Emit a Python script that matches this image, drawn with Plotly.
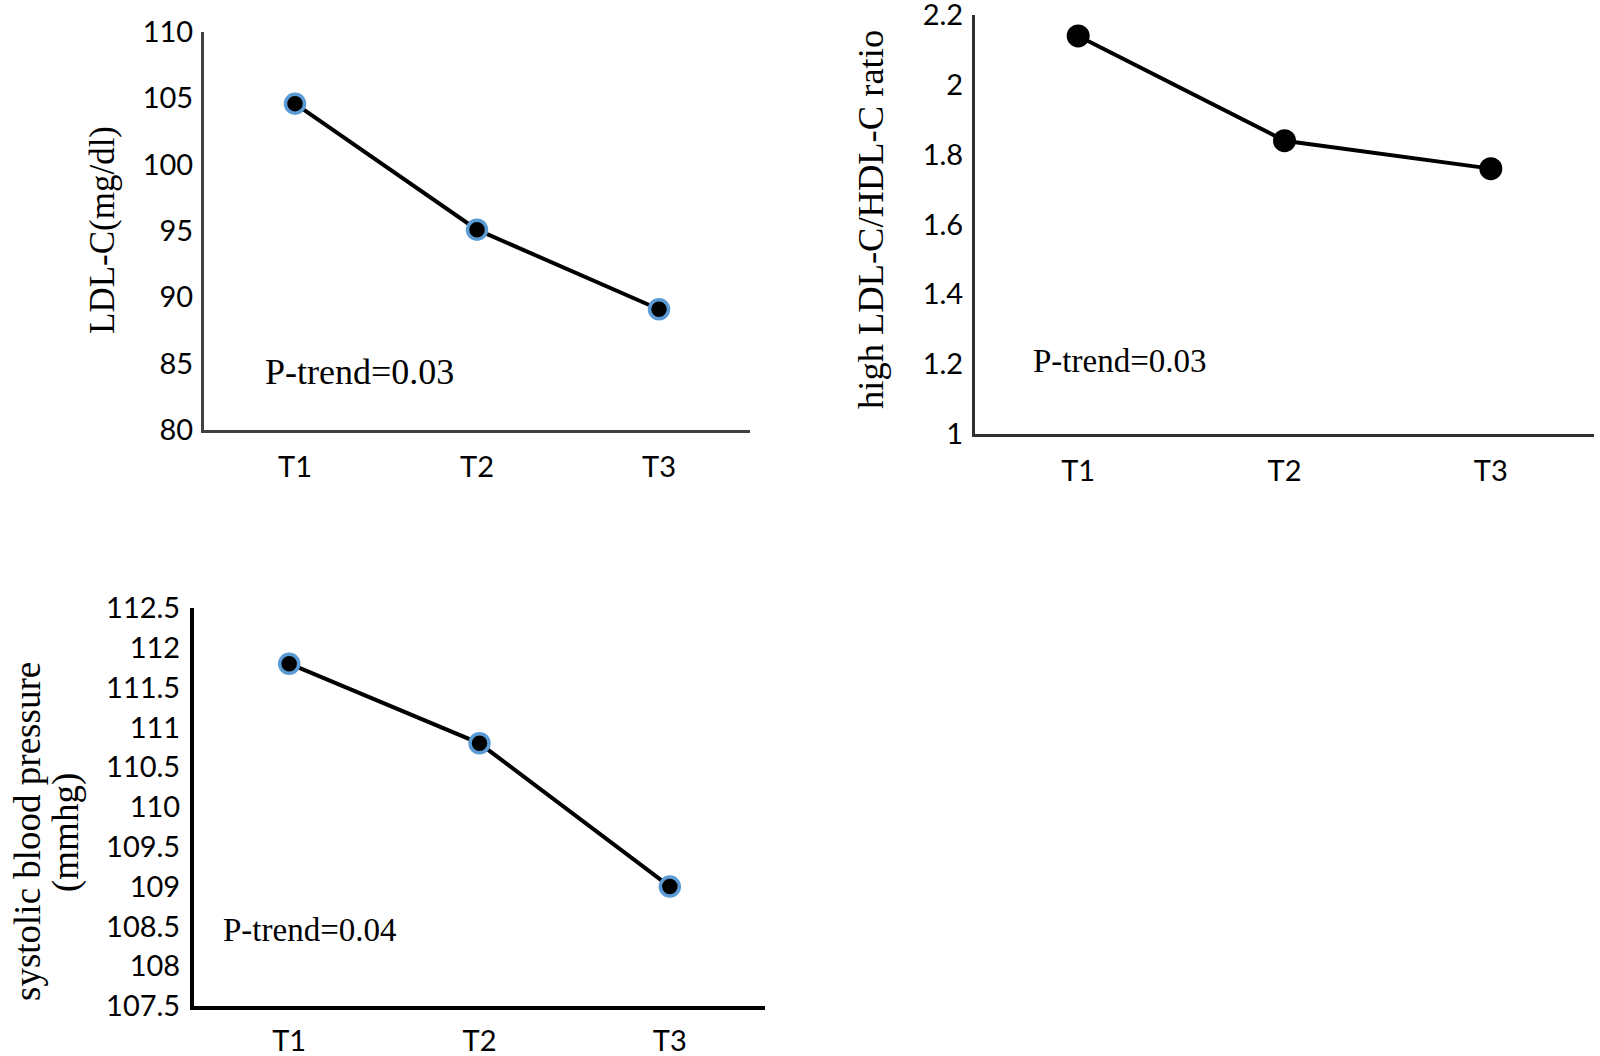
import plotly.graph_objects as go

categories = ["T1", "T2", "T3"]

ldl_values = [104.6, 95.1, 89.1]
ratio_values = [2.14, 1.84, 1.76]
sbp_values = [111.8, 110.8, 109.0]

ldl_ticks = [80, 85, 90, 95, 100, 105, 110]
ratio_ticks = [1, 1.2, 1.4, 1.6, 1.8, 2, 2.2]
ratio_ticktext = ["1", "1.2", "1.4", "1.6", "1.8", "2", "2.2"]
sbp_ticks = [107.5, 108, 108.5, 109, 109.5, 110, 110.5, 111, 111.5, 112, 112.5]
sbp_ticktext = ["107.5", "108", "108.5", "109", "109.5", "110", "110.5", "111", "111.5", "112", "112.5"]

ytitle1 = "LDL-C(mg/dl)"
ytitle2 = "high LDL-C/HDL-C ratio"
ytitle3_lines = ["systolic blood pressure", "(mmhg)"]
ptrend = ["P-trend=0.03", "P-trend=0.03", "P-trend=0.04"]

W, H = 1600, 1056
TICKFONT = dict(family="Lato, 'Open Sans', sans-serif", size=29, color="#000000")
SERIF = "'Liberation Serif', 'Times New Roman', serif"

fig = go.Figure()

blue = "#5B9BD5"
fig.add_trace(go.Scatter(x=categories, y=ldl_values, mode="lines+markers", xaxis="x", yaxis="y",
                         line=dict(color="#000000", width=4),
                         marker=dict(size=19, color="#000000", line=dict(color=blue, width=3.5)),
                         showlegend=False))
fig.add_trace(go.Scatter(x=categories, y=ratio_values, mode="lines+markers", xaxis="x2", yaxis="y2",
                         line=dict(color="#000000", width=4),
                         marker=dict(size=23, color="#000000"),
                         showlegend=False))
fig.add_trace(go.Scatter(x=categories, y=sbp_values, mode="lines+markers", xaxis="x3", yaxis="y3",
                         line=dict(color="#000000", width=4),
                         marker=dict(size=19, color="#000000", line=dict(color=blue, width=3.5)),
                         showlegend=False))

def px_x(v):
    return v / W

def px_y(v):
    return 1 - v / H

def xaxis(l, r, anchor, lc, lw, standoff=9):
    return dict(domain=[px_x(l), px_x(r)], anchor=anchor, type="category",
                range=[-0.5, 2.5], showgrid=False, zeroline=False, automargin=False,
                showline=True, linecolor=lc, linewidth=lw, ticks="", ticklabeloverflow="allow",
                tickfont=TICKFONT, ticklabelstandoff=standoff, fixedrange=True)

def yaxis(t, b, anchor, rng, tv, tt, lc, lw, standoff):
    return dict(domain=[px_y(b), px_y(t)], anchor=anchor, range=rng, automargin=False,
                tickvals=tv, ticktext=tt, showgrid=False, zeroline=False,
                showline=True, linecolor=lc, linewidth=lw, ticks="", ticklabeloverflow="allow",
                tickfont=TICKFONT, ticklabelstandoff=standoff, fixedrange=True)

fig.update_layout(
    width=W, height=H,
    margin=dict(l=0, r=0, t=0, b=0),
    paper_bgcolor="#FFFFFF", plot_bgcolor="#FFFFFF",
    xaxis=xaxis(204, 750, "y", "#404040", 3),
    yaxis=yaxis(32, 430, "x", [80, 110], ldl_ticks, [str(v) for v in ldl_ticks], "#404040", 3, 2),
    xaxis2=xaxis(975, 1594, "y2", "#303030", 3),
    yaxis2=yaxis(15, 434, "x2", [1, 2.2], ratio_ticks, ratio_ticktext, "#303030", 3, 3),
    xaxis3=xaxis(194, 765, "y3", "#000000", 4, 6),
    yaxis3=yaxis(608, 1006, "x3", [107.5, 112.5], sbp_ticks, sbp_ticktext, "#000000", 4, 4),
)

annotations = [
    dict(text=ytitle1, x=px_x(103), y=px_y(230), size=35),
    dict(text=ytitle2, x=px_x(870), y=px_y(219), size=36.5),
    dict(text=ytitle3_lines[0], x=px_x(27), y=px_y(832), size=37),
    dict(text=ytitle3_lines[1], x=px_x(66), y=px_y(833), size=37),
]
for a in annotations:
    s = a.pop("size")
    a.update(xref="paper", yref="paper", showarrow=False, xanchor="center", yanchor="middle",
             textangle=-90, font=dict(family=SERIF, size=s, color="#000000"))
    fig.add_annotation(**a)

pt = [
    (ptrend[0], 263, 372, 36),
    (ptrend[1], 1031, 361, 33),
    (ptrend[2], 221, 930, 33),
]
for text, x, y, s in pt:
    fig.add_annotation(text=text, x=px_x(x), y=px_y(y), xref="paper", yref="paper",
                       showarrow=False, xanchor="left", yanchor="middle",
                       font=dict(family=SERIF, size=s, color="#000000"))

fig.write_html("out.html", config={"displayModeBar": False},
               post_script="document.body.style.margin='0';document.body.style.overflow='hidden';")
